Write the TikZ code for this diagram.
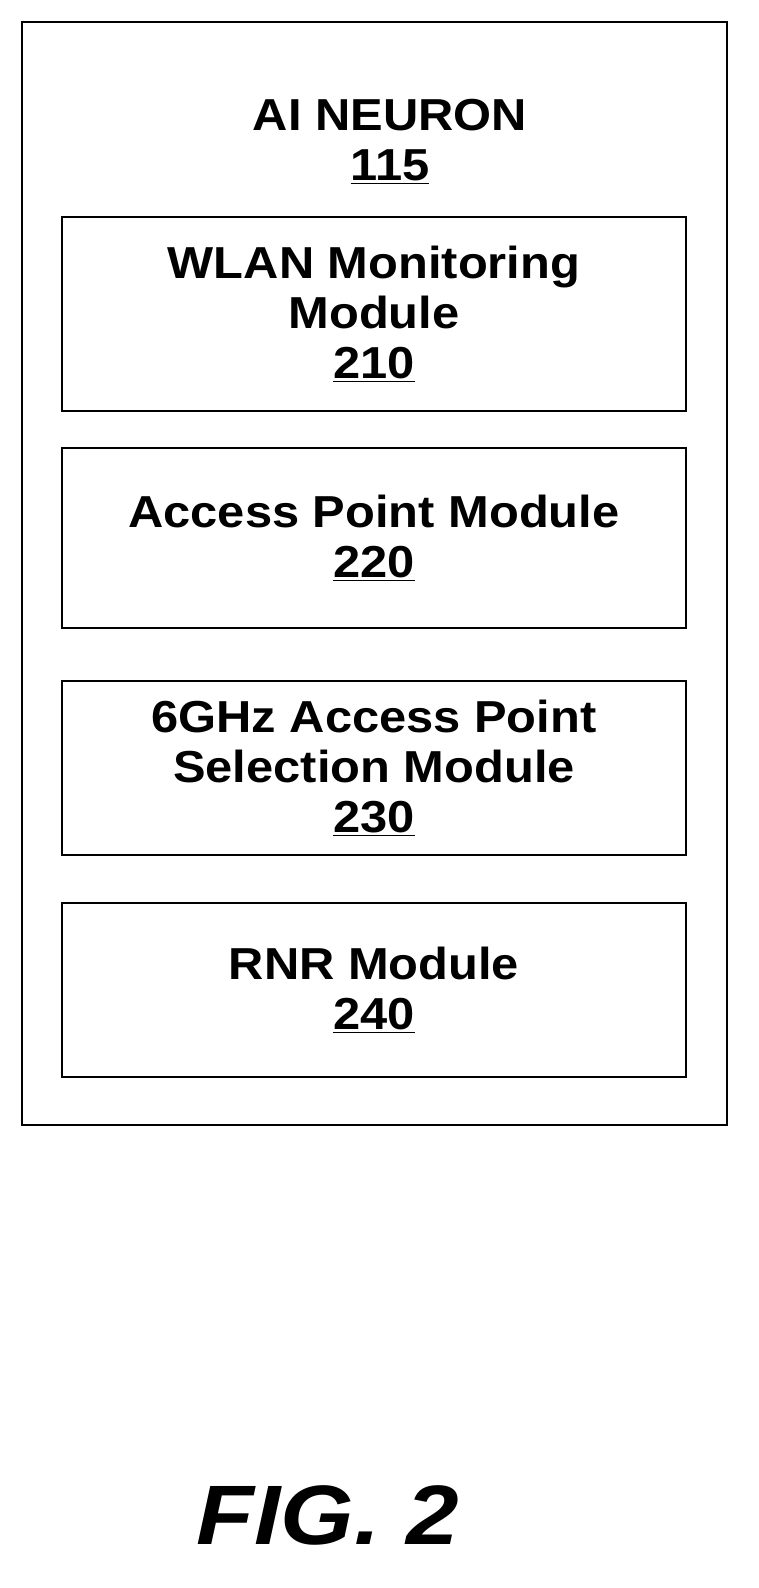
\documentclass[tikz,border=0pt]{standalone}
\usepackage{fontspec}
\setmainfont{Liberation Sans}
\newfontfamily\widesans[FakeStretch=1.09]{Liberation Sans}
\newfontfamily\figsans[FakeStretch=1.12]{Liberation Sans}
\usetikzlibrary{calc}
\begin{document}
\begin{tikzpicture}[%
x=0.02cm, y=-0.02cm,
modbox/.style={draw, line width=1.6pt, font=\widesans\fontsize{25.5}{28.5}\selectfont\bfseries, align=center},
]
\useasboundingbox (0,0) rectangle (759,1588);
%% outer box;
\draw [line width=1.6pt] (22,22) rectangle (727,1125);
\node (neuron) [font=\widesans\fontsize{25.5}{28.5}\selectfont\bfseries, align=center] at (390,142) {AI NEURON\\\underline{115}};
%% modules;
\node (wlan) [modbox, minimum width=624*0.02cm, minimum height=194*0.02cm] at (374,314) {WLAN Monitoring\\Module\\\underline{210}};
\node (ap) [modbox, minimum width=624*0.02cm, minimum height=180*0.02cm] at (374,538) {Access Point Module\\\underline{220}};
\node (sel) [modbox, minimum width=624*0.02cm, minimum height=174*0.02cm] at (374,768) {6GHz Access Point\\Selection Module\\\underline{230}};
\node (rnr) [modbox, minimum width=624*0.02cm, minimum height=174*0.02cm] at (374,990) {RNR Module\\\underline{240}};
%% label;
\node (fig) [font=\figsans\fontsize{48}{58}\selectfont\bfseries\itshape] at (328,1515) {FIG. 2};
\end{tikzpicture}
\end{document}
